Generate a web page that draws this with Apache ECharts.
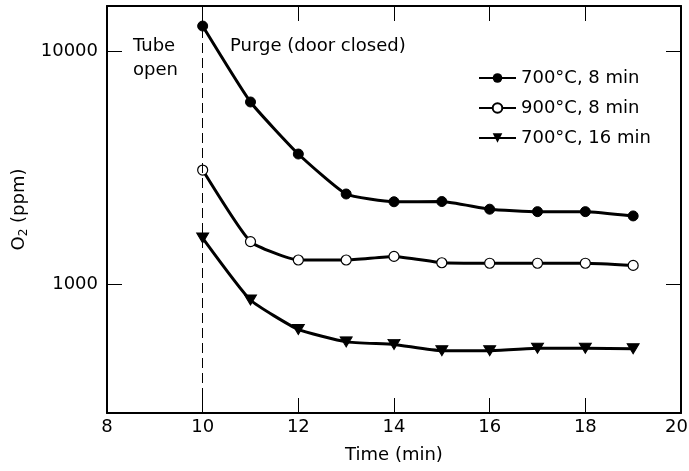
<!DOCTYPE html>
<html lang="en" style="height: 100%">
<head>
  <meta charset="utf-8">
</head>
<body style="height: 100%; margin: 0; background: #fff">
  <div id="container" style="width: 689px; height: 471px"></div>

  <script type="text/javascript" src="https://fastly.jsdelivr.net/npm/echarts@6.0.0/dist/echarts.min.js"></script>
  <script type="text/javascript">
	// time in minutes, O2 in ppm
	var times = [10, 11, 12, 13, 14, 15, 16, 17, 18, 19];
	var o2_700_8 = [12800, 6050, 3620, 2440, 2260, 2265, 2100, 2050, 2050, 1965];
	var o2_900_8 = [3090, 1525, 1272, 1272, 1318, 1238, 1232, 1232, 1232, 1206];
	var o2_700_16 = [1580, 857, 641, 567, 553, 520, 520, 532, 532, 530];
	var seriesNames = ['700°C, 8 min', '900°C, 8 min', '700°C, 16 min'];
	var xTicks = [8, 10, 12, 14, 16, 18, 20];
	var yTickLabels = [1000, 10000];

	var FONT = 'DejaVu Sans';
	var dom = document.getElementById('container');
	var myChart = echarts.init(dom, null, { renderer: 'canvas' });

	function pairs(ys) {
	  return times.map((t, i) => [t, ys[i]]);
	}

	function yLabel(v) {
	  for (var k = 0; k < yTickLabels.length; k++) {
	    if (Math.abs(v - yTickLabels[k]) < 1) return String(yTickLabels[k]);
	  }
	  return '';
	}

	// last x label sits a little left of its tick so it stays on the page
	function xLabel(v) {
	  return v === xTicks[xTicks.length - 1] ? '{last|' + v + '}' : String(v);
	}

	var lineBase = {
	  type: 'line',
	  smooth: 0.15,
	  lineStyle: { color: '#000', width: 3 },
	  symbolSize: 10,
	  z: 3
	};

	var option = {
	  animation: false,
	  backgroundColor: '#fff',
	  grid: { left: 107, right: 8, top: 6, bottom: 58, containLabel: false, outerBoundsMode: 'none' },
	  legend: {
	    orient: 'vertical',
	    left: 473,
	    top: 64,
	    itemWidth: 37,
	    itemHeight: 12,
	    itemGap: 12,
	    textStyle: { fontFamily: FONT, fontSize: 18, color: '#000', lineHeight: 18 },
	    data: seriesNames
	  },
	  xAxis: [{
	    type: 'value',
	    min: xTicks[0],
	    max: xTicks[xTicks.length - 1],
	    interval: 2,
	    name: 'Time (min)',
	    nameLocation: 'middle',
	    nameGap: 33,
	    nameTextStyle: { fontFamily: FONT, fontSize: 18, color: '#000' },
	    axisLine: { lineStyle: { color: '#000', width: 2 } },
	    axisTick: { inside: true, length: 15, lineStyle: { color: '#000', width: 1 } },
	    axisLabel: {
	      fontFamily: FONT, fontSize: 18, color: '#000', margin: 5,
	      formatter: xLabel,
	      rich: { last: { fontFamily: FONT, fontSize: 18, color: '#000', padding: [0, 9, 0, 0] } }
	    },
	    splitLine: { show: false }
	  }, {
	    type: 'value',
	    position: 'top',
	    min: xTicks[0],
	    max: xTicks[xTicks.length - 1],
	    interval: 2,
	    axisLine: { lineStyle: { color: '#000', width: 2 } },
	    axisTick: { inside: true, length: 15, lineStyle: { color: '#000', width: 1 } },
	    axisLabel: { show: false },
	    splitLine: { show: false }
	  }],
	  yAxis: [{
	    type: 'log',
	    min: 281,
	    max: 15600,
	    name: '{a|O}{b|2}{a| (ppm)}',
	    nameLocation: 'middle',
	    nameGap: 74,
	    nameTextStyle: {
	      color: '#000',
	      rich: {
	        a: { fontFamily: FONT, fontSize: 18, color: '#000', lineHeight: 22 },
	        b: { fontFamily: FONT, fontSize: 12, color: '#000', lineHeight: 22, verticalAlign: 'bottom', padding: [8, 0, 0, 0] }
	      }
	    },
	    axisLine: { lineStyle: { color: '#000', width: 2 } },
	    axisTick: { inside: true, length: 15, lineStyle: { color: '#000', width: 1 } },
	    axisLabel: { fontFamily: FONT, fontSize: 18, color: '#000', margin: 9, formatter: yLabel },
	    minorTick: { show: false },
	    splitLine: { show: false }
	  }, {
	    type: 'log',
	    position: 'right',
	    min: 281,
	    max: 15600,
	    axisLine: { lineStyle: { color: '#000', width: 2 } },
	    axisTick: { inside: true, length: 15, lineStyle: { color: '#000', width: 1 } },
	    axisLabel: { show: false },
	    splitLine: { show: false }
	  }],
	  graphic: [
	    { type: 'text', left: 133, top: 34, style: { text: 'Tube\nopen', fontFamily: FONT, fontSize: 18, lineHeight: 24, fill: '#000' } },
	    { type: 'text', left: 230, top: 34, style: { text: 'Purge (door closed)', fontFamily: FONT, fontSize: 18, lineHeight: 24, fill: '#000' } }
	  ],
	  series: [
	    Object.assign({}, lineBase, {
	      name: seriesNames[0],
	      data: pairs(o2_700_8),
	      symbol: 'circle',
	      itemStyle: { color: '#000', borderColor: '#000' },
	      markLine: {
	        silent: true,
	        symbol: 'none',
	        label: { show: false },
	        lineStyle: { color: '#000', width: 1, type: [10, 5] },
	        data: [{ xAxis: 10 }]
	      }
	    }),
	    Object.assign({}, lineBase, {
	      name: seriesNames[1],
	      data: pairs(o2_900_8),
	      symbol: 'circle',
	      symbolSize: 10,
	      itemStyle: { color: '#fff', borderColor: '#000', borderWidth: 1.2 }
	    }),
	    Object.assign({}, lineBase, {
	      name: seriesNames[2],
	      data: pairs(o2_700_16),
	      symbol: 'triangle',
	      symbolRotate: 180,
	      symbolSize: [12, 10],
	      itemStyle: { color: '#000', borderColor: '#000' }
	    })
	  ]
	};

	myChart.setOption(option);
    window.addEventListener('resize', myChart.resize);
  </script>
</body>
</html>
